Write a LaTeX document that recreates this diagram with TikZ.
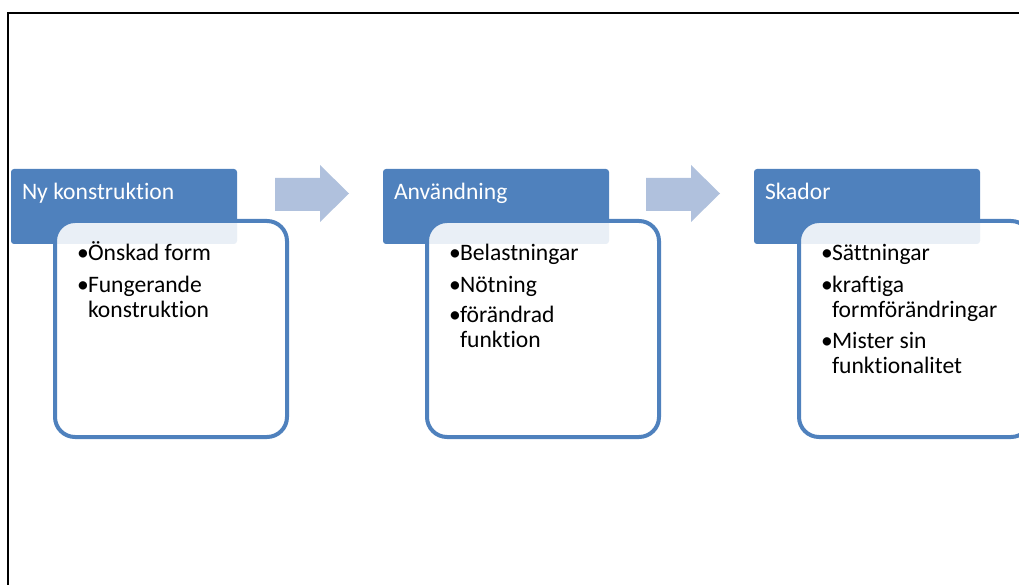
\documentclass[tikz,border=0pt]{standalone}
\usepackage{fontspec}
\setmainfont{Carlito}[Ligatures={NoCommon}]
\definecolor{hdr}{HTML}{4F81BD}
\definecolor{arr}{HTML}{B0C1DD}
\newcommand{\bul}{\makebox[11pt][l]{•}}
\begin{document}
\begin{tikzpicture}[x=1pt,y=-1pt,
  every node/.style={inner sep=0pt, outer sep=0pt},
  hdrbox/.style={fill=hdr, rounded corners=3pt, minimum width=226pt, minimum height=75pt, anchor=north west},
  bodybox/.style={draw=hdr, line width=4pt, fill=white, fill opacity=0.88, rounded corners=20pt, minimum width=232pt, minimum height=216pt, anchor=north west},
  hdrtext/.style={text=white, font=\fontsize{23.6}{25}\selectfont, anchor=base west},
  bodytext/.style={text=black, font=\fontsize{23.6}{25}\selectfont, anchor=base west},
  arrowshape/.style={fill=arr}]
\useasboundingbox (0,0) rectangle (1019,585);
\begin{scope}
\clip (0,0) rectangle (1019,585);
% frame
\draw[line width=2pt, black] (7.5,13.5) rectangle (1040,600);
% column 1
\node[hdrbox] (h1) at (11,169) {};
\node[bodybox] (b1) at (55,221) {};
\node[hdrtext] (t1) at (22,200) {Ny konstruktion};
\node[bodytext] (b1l1) at (77,261) {\bul Önskad form};
\node[bodytext] (b1l2) at (77,292) {\bul Fungerande};
\node[bodytext] (b1l3) at (88,317) {konstruktion};
% arrow 1
\fill[arrowshape] (275,178) -- (320,178) -- (320,165) -- (349,193.5) -- (320,222) -- (320,211) -- (275,211) -- cycle;
% column 2
\node[hdrbox] (h2) at (383,169) {};
\node[bodybox] (b2) at (427,221) {};
\node[hdrtext] (t2) at (394,200) {Användning};
\node[bodytext] (b2l1) at (449,261) {\bul Belastningar};
\node[bodytext] (b2l2) at (449,292) {\bul Nötning};
\node[bodytext] (b2l3) at (449,322) {\bul förändrad};
\node[bodytext] (b2l4) at (460,347) {funktion};
% arrow 2
\fill[arrowshape] (646,178) -- (691,178) -- (691,165) -- (720,193.5) -- (691,222) -- (691,211) -- (646,211) -- cycle;
% column 3
\node[hdrbox] (h3) at (754,169) {};
\node[bodybox] (b3) at (799,221) {};
\node[hdrtext] (t3) at (765,200) {Skador};
\node[bodytext] (b3l1) at (821,261) {\bul Sättningar};
\node[bodytext] (b3l2) at (821,292) {\bul kraftiga};
\node[bodytext] (b3l3) at (832,317) {formförändringar};
\node[bodytext] (b3l4) at (821,348) {\bul Mister sin};
\node[bodytext] (b3l5) at (832,373) {funktionalitet};
\end{scope}
\end{tikzpicture}
\end{document}
